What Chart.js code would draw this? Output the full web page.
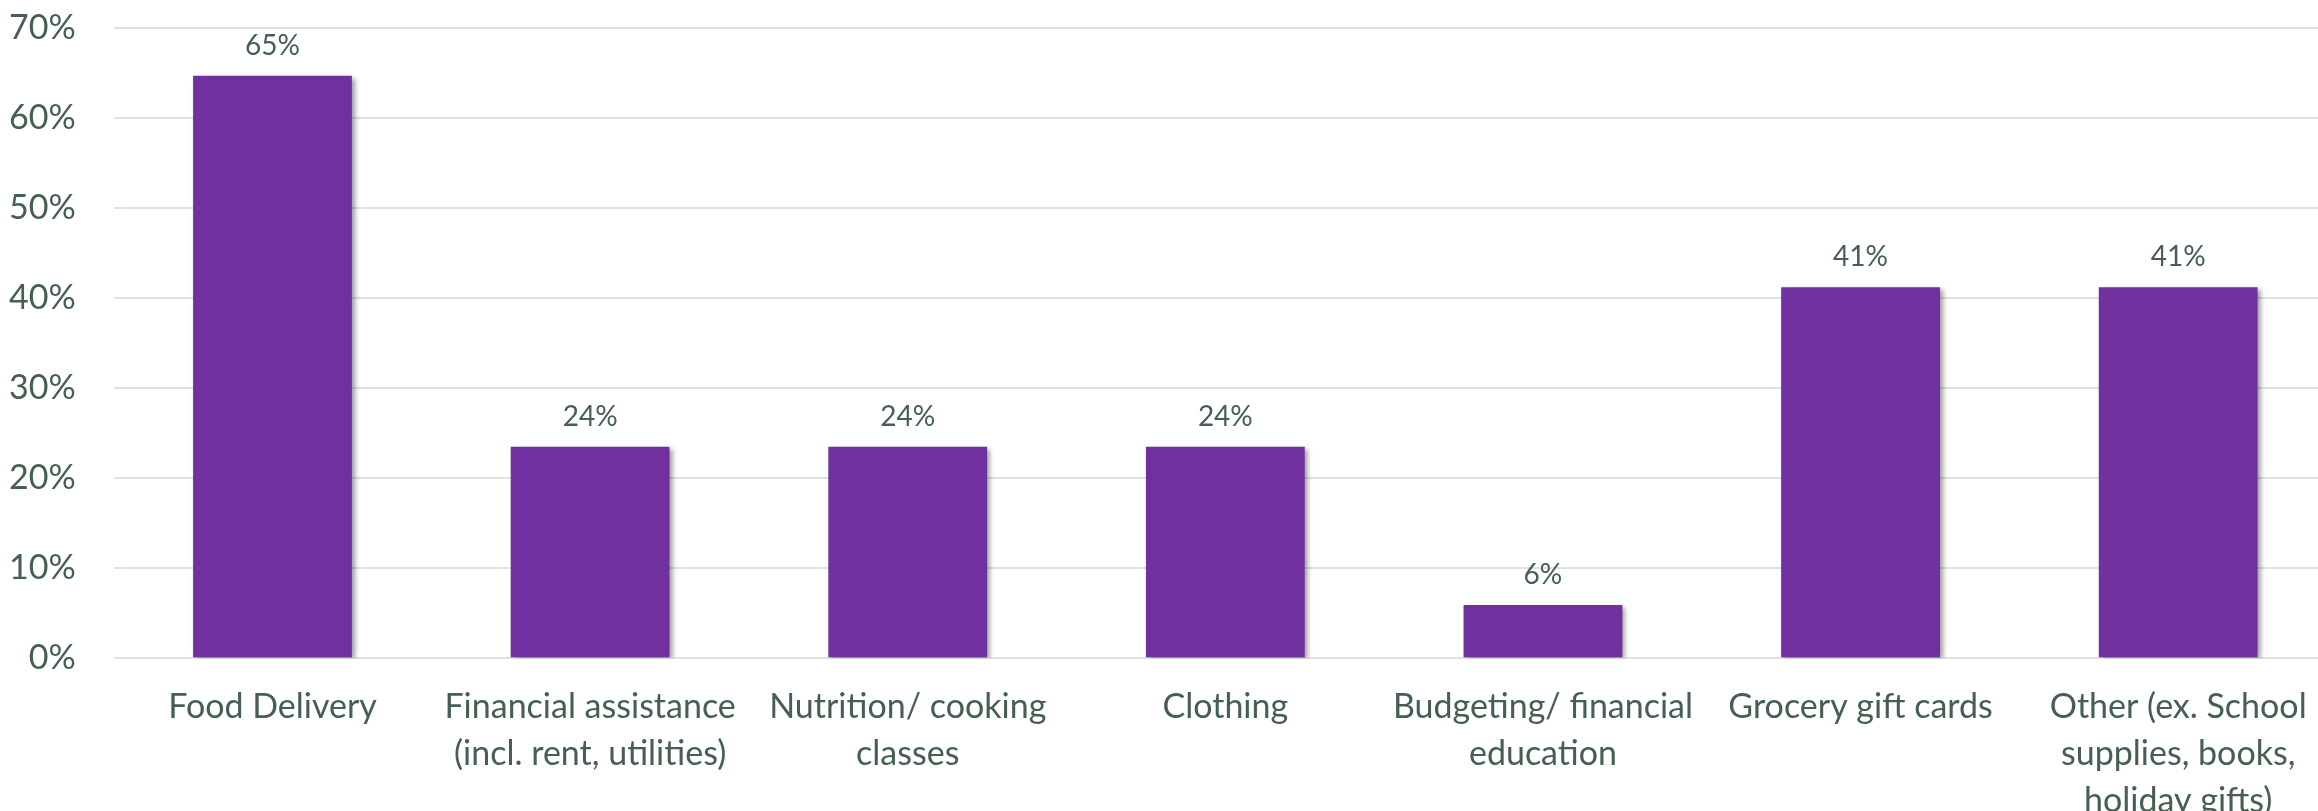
<!DOCTYPE html>
<html>
<head>
<meta charset="utf-8">
<script src="https://cdn.jsdelivr.net/npm/chart.js@4.4.1/dist/chart.umd.min.js"></script>
<style>
    html, body { margin: 0; padding: 0; background: #ffffff; overflow: hidden; }
    #chartBox { position: relative; width: 2337px; height: 811px; }
</style>
</head>
<body>
<div id="chartBox"><canvas id="supportChart"></canvas></div>
<script>
// categories (multi-line like in the original)
const categories = [
    'Food Delivery',
    ['Financial assistance', '(incl. rent, utilities)'],
    ['Nutrition/ cooking', 'classes'],
    'Clothing',
    ['Budgeting/ financial', 'education'],
    'Grocery gift cards',
    ['Other (ex. School', 'supplies, books,', 'holiday gifts)']
];

// share of respondents, in %
const percentValues = [64.7, 23.5, 23.5, 23.5, 5.9, 41.2, 41.2];

// y axis 0% .. 70%
const yMin = 0;
const yMax = 70;
const yStep = 10;

const textColor = '#45604f';
const barColor = '#7030a0';
const gridColor = '#dde3e0';

// shadow right/bottom of the bars
const barShadow = {
    id: 'barShadow',
    beforeDatasetsDraw(chart) {
        const ctx = chart.ctx;
        ctx.save();
        ctx.shadowColor = 'rgba(0, 0, 0, 0.4)';
        ctx.shadowBlur = 5;
        ctx.shadowOffsetX = 3;
        ctx.shadowOffsetY = 2;
    },
    afterDatasetsDraw(chart) {
        chart.ctx.restore();
    }
};

// value labels above each bar
const valueLabels = {
    id: 'valueLabels',
    afterDatasetsDraw(chart) {
        const ctx = chart.ctx;
        const meta = chart.getDatasetMeta(0);
        ctx.save();
        ctx.fillStyle = textColor;
        ctx.font = '28px Lato';
        ctx.textAlign = 'center';
        ctx.textBaseline = 'middle';
        meta.data.forEach((bar, i) => {
            const v = chart.data.datasets[0].data[i];
            ctx.fillText(Math.round(v) + '%', bar.x, bar.y - 30);
        });
        ctx.restore();
    }
};

const ctx = document.getElementById('supportChart').getContext('2d');

new Chart(ctx, {
    type: 'bar',
    data: {
        labels: categories,
        datasets: [{
            data: percentValues,
            backgroundColor: barColor,
            borderWidth: 0,
            categoryPercentage: 1,
            barPercentage: 0.5
        }]
    },
    options: {
        responsive: true,
        maintainAspectRatio: false,
        animation: false,
        layout: { padding: { top: 0, left: -29, right: 0, bottom: -38 } },
        plugins: {
            legend: { display: false },
            tooltip: { enabled: false }
        },
        scales: {
            x: {
                grid: { display: false, drawTicks: false },
                border: { display: false },
                ticks: {
                    color: textColor,
                    font: { family: 'Lato', size: 34, lineHeight: 1.38 },
                    padding: 25,
                    maxRotation: 0,
                    autoSkip: false
                }
            },
            y: {
                min: yMin,
                max: yMax,
                grid: { color: gridColor, lineWidth: 2, drawTicks: false },
                border: { display: false },
                ticks: {
                    stepSize: yStep,
                    color: textColor,
                    font: { family: 'Lato', size: 34 },
                    padding: 38,
                    callback: v => v + '%'
                },
                // tick padding would push the 70% line down, keep it at the top
                afterFit(scale) {
                    scale.paddingTop = 28;
                }
            }
        }
    },
    plugins: [barShadow, valueLabels]
});
</script>
</body>
</html>
